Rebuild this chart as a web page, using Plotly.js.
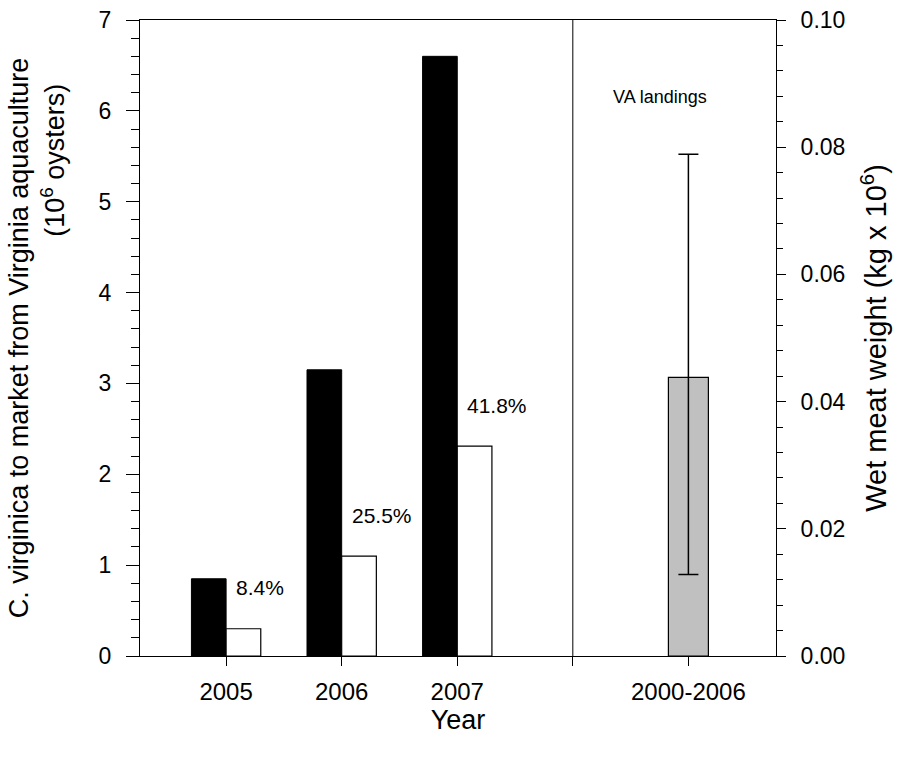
<!DOCTYPE html>
<html><head><meta charset="utf-8">
<script src="https://cdn.plot.ly/plotly-3.0.1.min.js"></script>
<style>html,body{margin:0;padding:0;background:#fff}</style>
</head><body><div id="chart" style="width:912px;height:763px"></div>
<script>
// ---- data ----
const categories = ['2005', '2006', '2007', '', '2000-2006'];
const aquaYears = ['2005', '2006', '2007'];
const oystersMillions = [0.85, 3.15, 6.60];
const meatAqua = [0.30, 1.10, 2.31];
const percentLabels = ['8.4%', '25.5%', '41.8%'];
const landingsCategory = ['2000-2006'];
const landingsMean = [0.0438];
const landingsHigh = [0.0789];
const landingsLow = [0.0128];
const landingsLabel = 'VA landings';

const idx = c => categories.indexOf(c);
const FONT = 'Liberation Sans, Arial, sans-serif';

const traces = [
  {
    type: 'bar', x: aquaYears.map(idx), y: oystersMillions,
    width: 0.3, offset: -0.3,
    marker: {color: '#000000', line: {color: '#000000', width: 1}},
    hoverinfo: 'skip', showlegend: false
  },
  {
    type: 'bar', x: aquaYears.map(idx), y: meatAqua,
    width: 0.3, offset: 0,
    marker: {color: '#ffffff', line: {color: '#000000', width: 1.2}},
    hoverinfo: 'skip', showlegend: false
  },
  {
    type: 'bar', x: landingsCategory.map(idx), y: landingsMean, yaxis: 'y2',
    width: 0.346, offset: -0.173,
    marker: {color: '#c0c0c0', line: {color: '#000000', width: 1.2}},
    error_y: {
      type: 'data', symmetric: false,
      array: landingsHigh.map((v, i) => v - landingsMean[i]),
      arrayminus: landingsMean.map((v, i) => v - landingsLow[i]),
      color: '#000000', thickness: 1.5, width: 10
    },
    hoverinfo: 'skip', showlegend: false
  }
];

const annotations = aquaYears.map((yr, i) => ({
  x: idx(yr), y: meatAqua[i], xref: 'x', yref: 'y',
  text: percentLabels[i], showarrow: false,
  xanchor: 'left', yanchor: 'middle', xshift: 8, yshift: 41,
  font: {family: FONT, size: 21, color: '#000'}
}));
annotations.push({
  x: 3.755, y: 0.879, xref: 'x', yref: 'paper',
  text: landingsLabel, showarrow: false, xanchor: 'center', yanchor: 'middle',
  font: {family: FONT, size: 18, color: '#000'}
});
annotations.push({
  x: -0.137, y: 0.78, xref: 'paper', yref: 'paper',
  text: '(10<sup>6</sup> oysters)', showarrow: false, textangle: -90,
  xanchor: 'center', yanchor: 'middle',
  font: {family: FONT, size: 27, color: '#000'}
});

const layout = {
  width: 912, height: 763,
  margin: {l: 140, r: 136, t: 20, b: 107, pad: 0},
  paper_bgcolor: '#ffffff', plot_bgcolor: '#ffffff',
  font: {family: FONT, size: 22, color: '#000'},
  showlegend: false,
  xaxis: {
    range: [-0.745, 4.758], tickvals: categories.map((c, i) => i), ticktext: categories,
    showgrid: false, zeroline: false,
    showline: true, mirror: true, linecolor: '#000', linewidth: 1,
    ticks: 'outside', ticklen: 9, tickcolor: '#000', tickwidth: 1,
    ticklabelstandoff: 5,
    tickfont: {family: FONT, size: 24},
    title: {text: 'Year', font: {family: FONT, size: 27}, standoff: 3}
  },
  yaxis: {
    range: [0, 7], dtick: 1, showgrid: false, zeroline: false,
    showline: true, linecolor: '#000', linewidth: 1,
    ticks: 'outside', ticklen: 13, tickcolor: '#000', tickwidth: 1,
    minor: {dtick: 0.2, ticks: 'outside', ticklen: 8, tickcolor: '#000', tickwidth: 1, showgrid: false},
    ticklabelstandoff: 10,
    tickfont: {family: FONT, size: 23},
    title: {text: 'C. virginica to market from Virginia aquaculture', font: {family: FONT, size: 27}, standoff: 62}
  },
  yaxis2: {
    overlaying: 'y', side: 'right', anchor: 'x',
    range: [0, 0.1], dtick: 0.02, tickformat: '.2f',
    showgrid: false, zeroline: false,
    showline: true, linecolor: '#000', linewidth: 1,
    ticks: 'outside', ticklen: 9, tickcolor: '#000', tickwidth: 1,
    minor: {dtick: 0.004, ticks: 'outside', ticklen: 6, tickcolor: '#000', tickwidth: 1, showgrid: false},
    ticklabelstandoff: 10,
    tickfont: {family: FONT, size: 23},
    title: {text: 'Wet meat weight (kg x 10<sup>6</sup>)', font: {family: FONT, size: 29}, standoff: 21}
  },
  shapes: [{
    type: 'line', xref: 'x', yref: 'paper', x0: 3, x1: 3, y0: 0, y1: 1,
    line: {color: '#000', width: 1}
  }],
  annotations: annotations
};

Plotly.newPlot('chart', traces, layout, {displayModeBar: false, staticPlot: true});
</script>
</body></html>
